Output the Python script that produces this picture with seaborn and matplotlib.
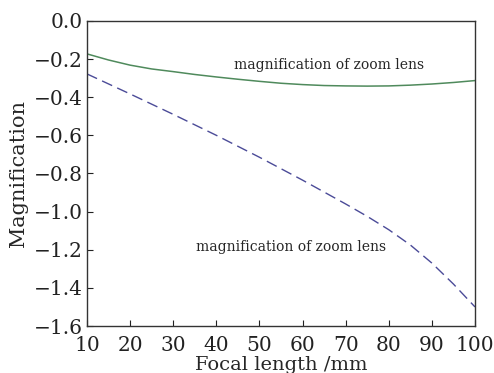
import numpy as np
import pandas as pd
import matplotlib
matplotlib.use("Agg")
import matplotlib.pyplot as plt
import seaborn as sns

focal_solid = [10, 15, 20, 25, 30, 35, 40, 45, 50, 55, 60, 65, 70, 75, 80, 85, 90, 95, 100]
mag_solid = [-0.173, -0.205, -0.232, -0.252, -0.266, -0.281, -0.294, -0.306, -0.317,
             -0.327, -0.334, -0.339, -0.341, -0.342, -0.341, -0.337, -0.331, -0.323, -0.313]
focal_dashed = [10, 20, 30, 40, 50, 55, 60, 66, 70, 75, 80, 85, 90, 95, 100]
mag_dashed = [-0.278, -0.383, -0.49, -0.60, -0.715, -0.775, -0.835, -0.91, -0.96,
              -1.025, -1.095, -1.175, -1.27, -1.38, -1.50]
xticks = [10, 20, 30, 40, 50, 60, 70, 80, 90, 100]
yticks = [0.0, -0.2, -0.4, -0.6, -0.8, -1.0, -1.2, -1.4, -1.6]
label_text = "magnification of zoom lens"

sns.set_style("ticks")
plt.rcParams['font.family'] = ['DejaVu Serif']

df_s = pd.DataFrame({"focal": focal_solid, "mag": mag_solid})
df_d = pd.DataFrame({"focal": focal_dashed, "mag": mag_dashed})

fig = plt.figure(figsize=(4.94, 3.73), dpi=100)
ax = fig.add_axes([0.176, 0.126, 0.7855, 0.818])

sns.lineplot(data=df_s, x="focal", y="mag", ax=ax, color="#4f8a5c", lw=1.1)
sns.lineplot(data=df_d, x="focal", y="mag", ax=ax, color="#4b4b98", lw=1.0,
             linestyle=(0, (8, 4)))

ax.set_xlim(10, 100)
ax.set_ylim(-1.6, 0.0)
ax.set_xticks(xticks)
ax.set_yticks(yticks)
ax.set_yticklabels([f"{v:.1f}".replace("-", "\u2212") for v in yticks])
ax.tick_params(direction="in", labelsize=14.5, length=4, width=0.8, colors="#222222")
ax.tick_params(axis="y", pad=3)
ax.tick_params(axis="x", pad=7)
for s in ax.spines.values():
    s.set_color("#333333")
    s.set_linewidth(1.0)
ax.set_xlabel("Focal length /mm", fontsize=14, labelpad=1)
ax.set_ylabel("Magnification", fontsize=15, labelpad=4)

ax.text(44.2, -0.231, label_text, fontsize=10, va="center")
ax.text(35.2, -1.186, label_text, fontsize=10, va="center")

fig.savefig("out.png", dpi=100)
